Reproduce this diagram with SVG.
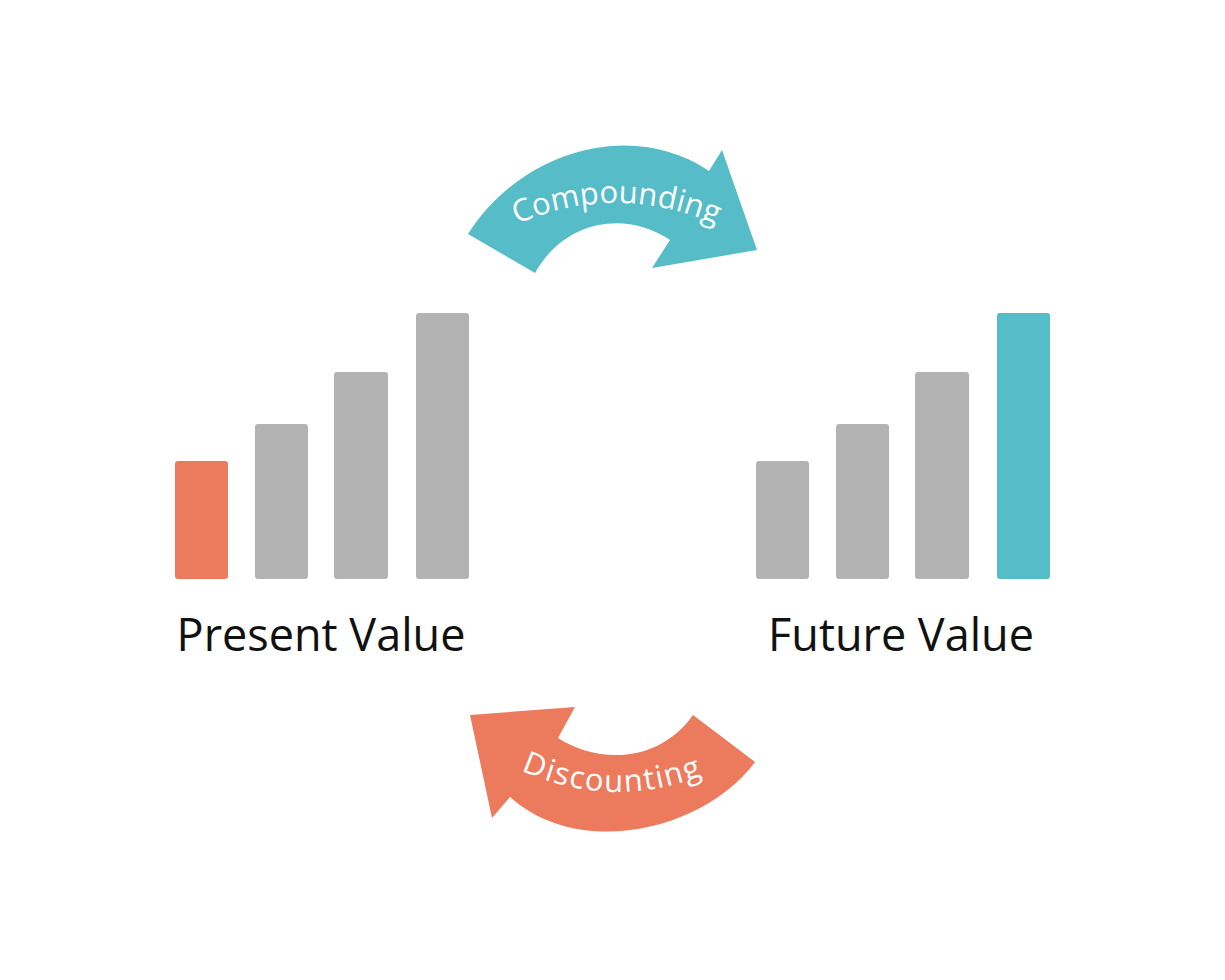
<svg xmlns="http://www.w3.org/2000/svg" width="1225" height="980" viewBox="0 0 1225 980">
<style>
.gray{fill:#b3b3b3}
.orange{fill:#ec7b5e}
.teal{fill:#55bcc8}
.lbl{font-family:"Open Sans","Liberation Sans",sans-serif;font-size:45px;fill:#111}
.arc{font-family:"Open Sans","Liberation Sans",sans-serif;font-size:31px;fill:#ffffff}
</style>
<defs>
<path id="tp1" d="M 500,232 Q 615,174 733,232"/>
<path id="tp2" d="M 505,763 Q 612,818 720,768"/>
</defs>
<rect width="1225" height="980" fill="#ffffff"/>
<g id="present">
<rect class="orange" x="175" y="461" width="53" height="118" rx="3"/>
<rect class="gray" x="255" y="424" width="53" height="155" rx="3"/>
<rect class="gray" x="334" y="372" width="54" height="207" rx="3"/>
<rect class="gray" x="416" y="313" width="53" height="266" rx="3"/>
<text class="lbl" x="321" y="651" text-anchor="middle">Present Value</text>
</g>
<g id="future">
<rect class="gray" x="756" y="461" width="53" height="118" rx="3"/>
<rect class="gray" x="836" y="424" width="53" height="155" rx="3"/>
<rect class="gray" x="915" y="372" width="54" height="207" rx="3"/>
<rect class="teal" x="997" y="313" width="53" height="266" rx="3"/>
<text class="lbl" x="901" y="651" text-anchor="middle">Future Value</text>
</g>
<g id="connectors">
<g id="compounding">
<path class="teal" d="M 468,234 C 520,152 630,118 709,171 L 722,150 L 757,250 L 652,268 L 670,240 C 625,210 565,220 535,273 Z"/>
<text class="arc"><textPath href="#tp1" startOffset="50%" text-anchor="middle">Compounding</textPath></text>
</g>
<g id="discounting">
<path class="orange" d="M 755,762 C 705,830 580,860 510,797 L 492,818 L 470,715 L 575,707 L 558,738 C 600,765 660,762 693,715 Z"/>
<text class="arc" letter-spacing="1.5"><textPath href="#tp2" startOffset="50%" text-anchor="middle">Discounting</textPath></text>
</g>
</g>
</svg>
